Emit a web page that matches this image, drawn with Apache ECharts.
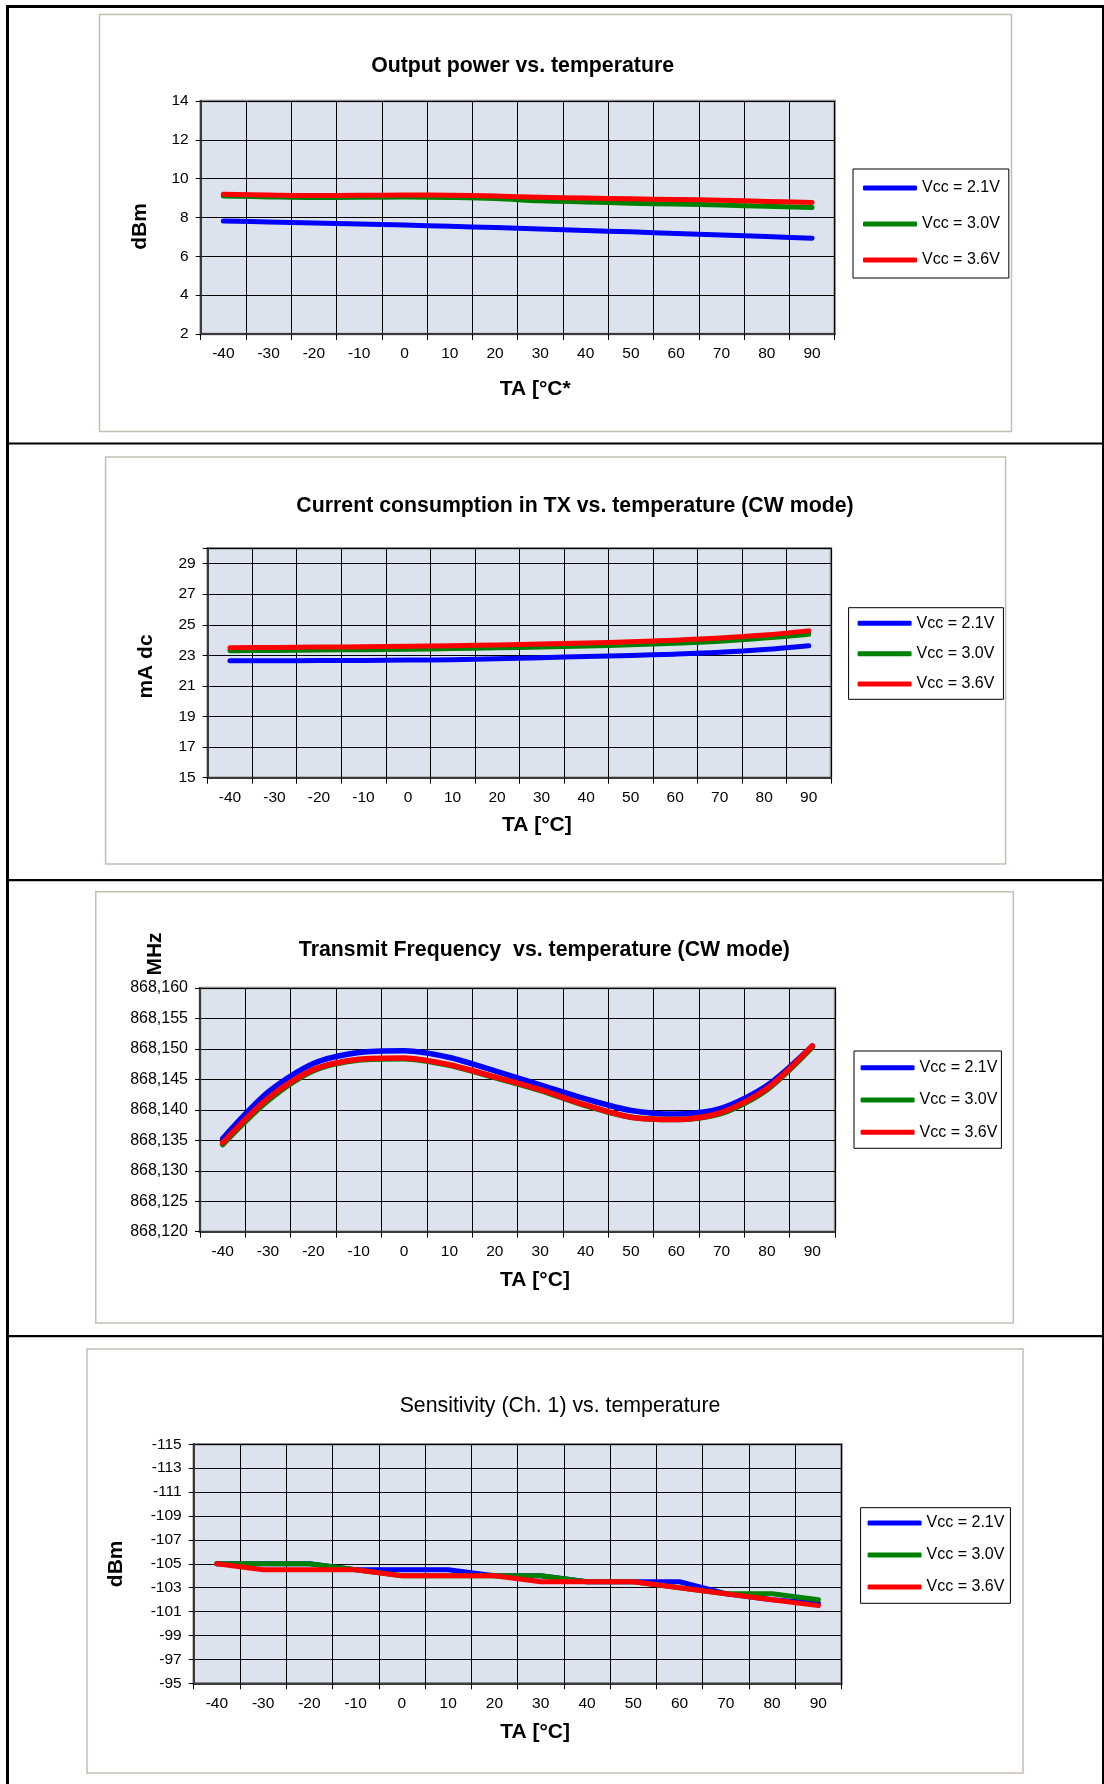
<!DOCTYPE html>
<html>
<head>
<meta charset="utf-8">
<script src="https://cdn.jsdelivr.net/npm/echarts@6/dist/echarts.min.js"></script>
<style>
html,body{margin:0;padding:0;background:#fff;}
#c{width:1104px;height:1784px;}
</style>
</head>
<body>
<div id="c"></div>
<script>
// ---------- data ----------
const temps = ['-40','-30','-20','-10','0','10','20','30','40','50','60','70','80','90'];
const seriesNames = ['Vcc = 2.1V', 'Vcc = 3.0V', 'Vcc = 3.6V'];
const seriesColors = ['#0000FF', '#008000', '#FF0000'];

const chartTitles = [
  'Output power vs. temperature',
  'Current consumption in TX vs. temperature (CW mode)',
  'Transmit Frequency  vs. temperature (CW mode)',
  'Sensitivity (Ch. 1) vs. temperature'
];
const yNames = ['dBm', 'mA dc', '', 'dBm'];
const xNames = ['TA [°C*', 'TA [°C]', 'TA [°C]', 'TA [°C]'];
const freqUnit = 'MHz';

// Output power (dBm)
const power21 = [7.82, 7.77, 7.72, 7.67, 7.61, 7.55, 7.48, 7.41, 7.33, 7.26, 7.18, 7.10, 7.02, 6.93];
const power30 = [9.11, 9.06, 9.03, 9.04, 9.05, 9.03, 8.98, 8.86, 8.80, 8.74, 8.69, 8.64, 8.58, 8.51];
const power36 = [9.20, 9.16, 9.13, 9.14, 9.16, 9.15, 9.11, 9.04, 9.00, 8.96, 8.93, 8.89, 8.83, 8.77];

// Current consumption (mA dc)
const current21 = [22.65, 22.65, 22.66, 22.67, 22.69, 22.72, 22.78, 22.85, 22.92, 22.99, 23.08, 23.20, 23.38, 23.63];
const current30 = [23.30, 23.32, 23.35, 23.37, 23.40, 23.44, 23.49, 23.55, 23.61, 23.69, 23.79, 23.93, 24.13, 24.38];
const current36 = [23.50, 23.52, 23.54, 23.57, 23.60, 23.63, 23.68, 23.74, 23.81, 23.89, 23.99, 24.13, 24.33, 24.60];

// Transmit frequency (MHz)
const freq21 = [868.1353, 868.1429, 868.1476, 868.1494, 868.1497, 868.1486, 868.1464, 868.1441, 868.1418, 868.1399, 868.1393, 868.1403, 868.1440, 868.1505];
const freq30 = [868.1343, 868.1415, 868.1464, 868.1482, 868.1484, 868.1473, 868.1453, 868.1432, 868.1407, 868.1388, 868.1384, 868.1394, 868.1433, 868.1503];
const freq36 = [868.1346, 868.1419, 868.1466, 868.1483, 868.1485, 868.1474, 868.1454, 868.1433, 868.1408, 868.1388, 868.1384, 868.1396, 868.1435, 868.1505];

// Sensitivity (dBm)
const sens21 = [-105, -105, -105, -104.5, -104.5, -104.5, -104, -104, -103.5, -103.5, -103.5, -102.5, -102, -101.7];
const sens30 = [-105, -105, -105, -104.5, -104, -104, -104, -104, -103.5, -103.5, -103, -102.5, -102.5, -102];
const sens36 = [-105, -104.5, -104.5, -104.5, -104, -104, -104, -103.5, -103.5, -103.5, -103, -102.5, -102, -101.5];

// y scales (min, max, interval)
const yMin = [2, 15, 868.12, -115];
const yMax = [14, 30, 868.16, -95];
const yStep = [2, 2, 0.005, 2];

// ---------- layout ----------
const FONT = "'Liberation Sans', Arial, sans-serif";
const grids = [
  {left: 200.7, top: 101,   width: 634,   height: 233},
  {left: 207.7, top: 548.3, width: 623.3, height: 229.4},
  {left: 200,   top: 988,   width: 635,   height: 243.7},
  {left: 193.7, top: 1444.3,width: 647.8, height: 239}
];
const titlePos = [[522.6, 66.5], [575, 506.5], [544.4, 950.5], [560, 1406.5]];
const legendPos = [
  {left: 853,   top: 169,    padding: [11, 9, 10, 10],  itemGap: 20},
  {left: 848.6, top: 607.7,  padding: [7.6, 9, 7.3, 9], itemGap: 14.35},
  {left: 854,   top: 1051,   padding: [8.7, 4, 8, 6.6], itemGap: 16.3},
  {left: 860.6, top: 1507.7, padding: [7.3, 6, 8.3, 7], itemGap: 16}
];
const yNameGap = [60, 61, 60, 77.7];
const yNamePad = [[0, 18, 0, 0], [0, 7, 0, 0], [0, 0, 0, 0], [0, 0, 0, 0]];
const xNameGap = [55, 47.3, 48.3, 48.7];
const frames = [
  [99.5, 14.5, 912, 417],
  [105.6, 457, 900, 407],
  [95.8, 891.7, 917.5, 431.3],
  [87, 1349, 936, 424]
];

const chart = echarts.init(document.getElementById('c'), null, {renderer: 'canvas'});

const dataSets = [
  [power21, power30, power36],
  [current21, current30, current36],
  [freq21, freq30, freq36],
  [sens21, sens30, sens36]
];

const option = {
  animation: false,
  backgroundColor: '#fff',
  title: chartTitles.map((t, i) => ({
    text: t,
    left: titlePos[i][0],
    top: titlePos[i][1],
    textAlign: 'center',
    textVerticalAlign: 'middle',
    padding: 0,
    textStyle: {
      fontFamily: FONT,
      fontSize: 21.3,
      fontWeight: i === 3 ? 'normal' : 'bold',
      color: '#000'
    }
  })),
  legend: legendPos.map((p, i) => ({
    orient: 'vertical',
    left: p.left,
    top: p.top,
    padding: p.padding,
    itemGap: p.itemGap,
    itemWidth: 54,
    itemHeight: 5,
    icon: 'roundRect',
    selectedMode: false,
    backgroundColor: '#fff',
    borderColor: '#000',
    borderWidth: 1,
    data: seriesNames,
    textStyle: {fontFamily: FONT, fontSize: 16, lineHeight: 16, color: '#000'}
  })),
  grid: grids.map(g => ({
    left: g.left, top: g.top, width: g.width, height: g.height,
    show: true,
    backgroundColor: '#DDE3EE',
    borderColor: '#8A8A8A',
    borderWidth: 2.5,
    containLabel: false,
    outerBoundsMode: 'none'
  })),
  xAxis: grids.map((g, i) => ({
    type: 'category',
    gridIndex: i,
    data: temps,
    boundaryGap: true,
    name: xNames[i],
    nameLocation: 'middle',
    nameGap: xNameGap[i],
    nameTextStyle: {
      fontFamily: FONT, fontSize: 21, fontWeight: 'bold', color: '#000',
      align: 'center', verticalAlign: 'middle', padding: [0, 0, 0, 35]
    },
    axisLine: {show: true, lineStyle: {color: '#3A3A3A', width: 2}},
    axisTick: {show: true, length: 6, lineStyle: {color: '#000', width: 1}},
    axisLabel: {fontFamily: FONT, fontSize: 15.5, color: '#000', margin: 12, interval: 0},
    splitLine: {show: true, lineStyle: {color: '#000', width: 1}}
  })),
  yAxis: grids.map((g, i) => ({
    type: 'value',
    gridIndex: i,
    min: yMin[i],
    max: yMax[i],
    interval: yStep[i],
    inverse: i === 3,
    name: yNames[i],
    nameLocation: 'middle',
    nameRotate: 90,
    nameGap: yNameGap[i],
    nameTextStyle: {
      fontFamily: FONT, fontSize: 21, fontWeight: 'bold', color: '#000',
      align: 'center', verticalAlign: 'middle', padding: yNamePad[i]
    },
    axisLine: {show: true, lineStyle: {color: '#3A3A3A', width: 2}},
    axisTick: {show: true, length: 5, lineStyle: {color: '#000', width: 1}},
    axisLabel: {
      fontFamily: FONT, fontSize: i === 2 ? 16 : 15.5, color: '#000', margin: 12,
      formatter: function (v) {
        if (i === 1 && v > 29.5) return '';
        if (i === 2) return v.toFixed(3).replace('.', ',');
        return String(Math.round(v));
      }
    },
    splitLine: {show: true, lineStyle: {color: '#000', width: 1}}
  })),
  series: [],
  graphic: []
};

dataSets.forEach((set, gi) => {
  set.forEach((arr, si) => {
    option.series.push({
      type: 'line',
      name: seriesNames[si],
      xAxisIndex: gi,
      yAxisIndex: gi,
      data: arr,
      color: seriesColors[si],
      symbol: 'none',
      smooth: gi === 3 ? false : (gi === 2 ? 0.28 : 0.35),
      lineStyle: {width: gi === 2 ? 5.5 : 5, color: seriesColors[si], cap: 'round', join: 'round'},
      z: 3 + si
    });
  });
});

// page frames and separators
frames.forEach(f => {
  option.graphic.push({
    type: 'rect', silent: true, z: 0,
    shape: {x: f[0], y: f[1], width: f[2], height: f[3]},
    style: {fill: null, stroke: '#C3BFB3', lineWidth: 1.5}
  });
});
const blackRects = [
  [6, 5, 1098, 3],
  [6, 5, 3, 1779],
  [1102, 5, 2, 1779],
  [6, 442.5, 1098, 2],
  [6, 879, 1098, 2.2],
  [6, 1335, 1098, 2.2]
];
blackRects.forEach(r => {
  option.graphic.push({
    type: 'rect', silent: true, z: 10,
    shape: {x: r[0], y: r[1], width: r[2], height: r[3]},
    style: {fill: '#000'}
  });
});
option.graphic.push({
  type: 'text', silent: true, z: 10,
  x: 155.5, y: 954, rotation: Math.PI / 2,
  style: {text: freqUnit, font: 'bold 21px ' + FONT, fill: '#000', align: 'center', verticalAlign: 'middle'}
});

chart.setOption(option);
</script>
</body>
</html>
